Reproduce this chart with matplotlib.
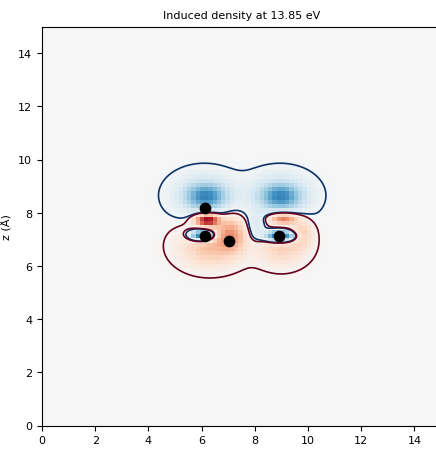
import numpy as np
import matplotlib
matplotlib.use("Agg")
import matplotlib.pyplot as plt

# Atom positions (Å)
atom_x = [6.13, 6.13, 7.03, 8.91]
atom_z = [8.16, 7.14, 6.95, 7.14]

# Induced-density lobes: centre x, centre z, amplitude, width x, width z
lobe_x = [6.10, 8.95, 6.15, 8.95, 6.30, 9.00, 7.10, 6.20, 9.05, 6.00, 8.95, 8.05, 9.75]
lobe_z = [8.65, 8.65, 8.60, 8.60, 6.75, 6.75, 7.20, 7.72, 7.78, 7.15, 7.12, 7.45, 7.25]
lobe_a = [-0.28, -0.28, -0.40, -0.40, 0.30, 0.25, 0.35, 0.90, 0.55, -0.95, -1.00, -0.16, 0.22]
lobe_sx = [0.78, 0.78, 0.48, 0.48, 0.78, 0.62, 0.35, 0.30, 0.35, 0.30, 0.38, 0.22, 0.28]
lobe_sz = [0.55, 0.55, 0.30, 0.30, 0.54, 0.49, 0.45, 0.16, 0.15, 0.14, 0.15, 0.35, 0.35]

grid_step = 0.16
box = 15.0
contour_level = 0.025


def field(X, Z):
    F = np.zeros_like(X)
    for x0, z0, a, sx, sz in zip(lobe_x, lobe_z, lobe_a, lobe_sx, lobe_sz):
        F += a * np.exp(-((X - x0) ** 2 / (2 * sx ** 2) + (Z - z0) ** 2 / (2 * sz ** 2)))
    return F


xc = np.arange(grid_step / 2, box, grid_step)
Xc, Zc = np.meshgrid(xc, xc)
Fc = field(Xc, Zc)
cell_edge = xc[-1] + grid_step / 2

xf = np.linspace(0, box, 600)
Xf, Zf = np.meshgrid(xf, xf)
Ff = field(Xf, Zf)

fig = plt.figure(figsize=(4.36, 4.52), dpi=100)
ax = fig.add_axes([42 / 436, 25 / 452, 399 / 436, 400 / 452])
ax.imshow(Fc, origin="lower", extent=[0, cell_edge, 0, cell_edge], cmap="RdBu_r",
          vmin=-1, vmax=1, interpolation="nearest")
ax.contour(Xf, Zf, Ff, levels=[-contour_level, contour_level],
           colors=["#0d3366", "#67001f"], linewidths=1.2)
ax.scatter(atom_x, atom_z, s=55, color="black", zorder=5)
ax.set_facecolor("#f7f7f7")
ax.set_xlim(0, box)
ax.set_ylim(0, box)
ax.set_xticks(np.arange(0, 15, 2))
ax.set_yticks(np.arange(0, 15, 2))
ax.tick_params(labelsize=8)
ax.set_xlabel("x (Å)", fontsize=8)
ax.set_ylabel("z (Å)", fontsize=8)
ax.set_title("Induced density at 13.85 eV", fontsize=8)
fig.savefig("out.png", dpi=100)
